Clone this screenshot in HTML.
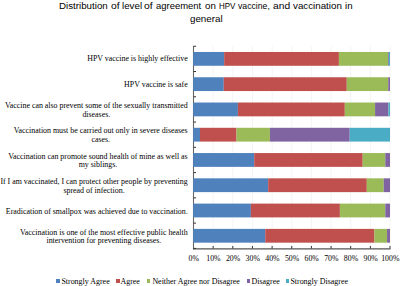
<!DOCTYPE html>
<html><head><meta charset="utf-8">
<style>
html,body{margin:0;padding:0;background:#fff;}
body{width:400px;height:286px;position:relative;overflow:hidden;}
.tw{position:absolute;top:0;transform-origin:0 0;font-family:"Liberation Sans",sans-serif;font-size:9.2px;color:#000;white-space:nowrap;line-height:13px;}
.t{position:absolute;left:0;width:411px;text-align:center;font-family:"Liberation Sans",sans-serif;font-size:9.2px;letter-spacing:0.2px;color:#000;white-space:nowrap;line-height:13px;}
.lab{position:absolute;right:212.3px;text-align:center;font-family:"Liberation Serif",serif;font-size:7.9px;line-height:8.65px;color:#000;white-space:nowrap;}
.xl{position:absolute;width:30px;text-align:center;font-family:"Liberation Serif",serif;font-size:7.82px;line-height:9px;color:#000;white-space:nowrap;top:253.8px;}
.lg{position:absolute;font-family:"Liberation Serif",serif;font-size:7.95px;line-height:9px;color:#000;white-space:nowrap;top:276.5px;}
.sq{position:absolute;width:3.5px;height:3.5px;top:279px;}
svg{position:absolute;left:0;top:0;}
</style></head><body>
<span class="tw" style="left:59.41px;transform:scaleX(1.060)">Distribution</span>
<span class="tw" style="left:111.28px;transform:scaleX(1.125)">of</span>
<span class="tw" style="left:122.34px;transform:scaleX(1.061)">level</span>
<span class="tw" style="left:144.28px;transform:scaleX(1.125)">of</span>
<span class="tw" style="left:155.91px;transform:scaleX(1.028)">agreement</span>
<span class="tw" style="left:204.80px;transform:scaleX(1.059)">on</span>
<span class="tw" style="left:218.55px;transform:scaleX(0.867)">HPV</span>
<span class="tw" style="left:238.18px;transform:scaleX(0.944)">vaccine,</span>
<span class="tw" style="left:272.78px;transform:scaleX(1.120)">and</span>
<span class="tw" style="left:293.47px;transform:scaleX(1.063)">vaccination</span>
<span class="tw" style="left:344.64px;transform:scaleX(1.055)">in</span>
<span class="tw" style="left:189.60px;top:13px;transform:scaleX(1.063)">general</span>
<svg width="400" height="286" viewBox="0 0 400 286">
<line x1="213.15" y1="46.25" x2="213.15" y2="248" stroke="#f4f4f4" stroke-width="1"/>
<line x1="232.80" y1="46.25" x2="232.80" y2="248" stroke="#f4f4f4" stroke-width="1"/>
<line x1="252.45" y1="46.25" x2="252.45" y2="248" stroke="#f4f4f4" stroke-width="1"/>
<line x1="272.10" y1="46.25" x2="272.10" y2="248" stroke="#f4f4f4" stroke-width="1"/>
<line x1="291.75" y1="46.25" x2="291.75" y2="248" stroke="#f4f4f4" stroke-width="1"/>
<line x1="311.40" y1="46.25" x2="311.40" y2="248" stroke="#f4f4f4" stroke-width="1"/>
<line x1="331.05" y1="46.25" x2="331.05" y2="248" stroke="#f4f4f4" stroke-width="1"/>
<line x1="350.70" y1="46.25" x2="350.70" y2="248" stroke="#f4f4f4" stroke-width="1"/>
<line x1="370.35" y1="46.25" x2="370.35" y2="248" stroke="#f4f4f4" stroke-width="1"/>
<line x1="390.00" y1="46.25" x2="390.00" y2="248" stroke="#f4f4f4" stroke-width="1"/>
<line x1="193.5" y1="46" x2="193.5" y2="249.4" stroke="#666" stroke-width="1.1"/>
<line x1="193" y1="248.8" x2="390.5" y2="248.8" stroke="#555" stroke-width="1.2"/>
<line x1="193.5" y1="46.25" x2="196" y2="46.25" stroke="#333" stroke-width="1"/>
<line x1="193.5" y1="71.52" x2="196" y2="71.52" stroke="#333" stroke-width="1"/>
<line x1="193.5" y1="96.79" x2="196" y2="96.79" stroke="#333" stroke-width="1"/>
<line x1="193.5" y1="122.06" x2="196" y2="122.06" stroke="#333" stroke-width="1"/>
<line x1="193.5" y1="147.33" x2="196" y2="147.33" stroke="#333" stroke-width="1"/>
<line x1="193.5" y1="172.60" x2="196" y2="172.60" stroke="#333" stroke-width="1"/>
<line x1="193.5" y1="197.87" x2="196" y2="197.87" stroke="#333" stroke-width="1"/>
<line x1="193.5" y1="223.14" x2="196" y2="223.14" stroke="#333" stroke-width="1"/>
<line x1="193.5" y1="248.41" x2="196" y2="248.41" stroke="#333" stroke-width="1"/>
<line x1="213.15" y1="246" x2="213.15" y2="248.5" stroke="#333" stroke-width="1"/>
<line x1="232.80" y1="246" x2="232.80" y2="248.5" stroke="#333" stroke-width="1"/>
<line x1="252.45" y1="246" x2="252.45" y2="248.5" stroke="#333" stroke-width="1"/>
<line x1="272.10" y1="246" x2="272.10" y2="248.5" stroke="#333" stroke-width="1"/>
<line x1="291.75" y1="246" x2="291.75" y2="248.5" stroke="#333" stroke-width="1"/>
<line x1="311.40" y1="246" x2="311.40" y2="248.5" stroke="#333" stroke-width="1"/>
<line x1="331.05" y1="246" x2="331.05" y2="248.5" stroke="#333" stroke-width="1"/>
<line x1="350.70" y1="246" x2="350.70" y2="248.5" stroke="#333" stroke-width="1"/>
<line x1="370.35" y1="246" x2="370.35" y2="248.5" stroke="#333" stroke-width="1"/>
<line x1="390.00" y1="246" x2="390.00" y2="248.5" stroke="#333" stroke-width="1"/>
<rect x="193.10" y="51.98" width="31.05" height="13.8" fill="#4F81BD"/>
<rect x="224.15" y="51.98" width="114.76" height="13.8" fill="#C0504D"/>
<rect x="338.91" y="51.98" width="49.12" height="13.8" fill="#9BBB59"/>
<rect x="388.03" y="51.98" width="0.79" height="13.8" fill="#8064A2"/>
<rect x="388.82" y="51.98" width="1.18" height="13.8" fill="#4BACC6"/>
<rect x="193.10" y="77.25" width="30.66" height="13.8" fill="#4F81BD"/>
<rect x="223.76" y="77.25" width="123.01" height="13.8" fill="#C0504D"/>
<rect x="346.77" y="77.25" width="41.46" height="13.8" fill="#9BBB59"/>
<rect x="388.23" y="77.25" width="1.77" height="13.8" fill="#8064A2"/>
<rect x="193.10" y="102.52" width="44.81" height="13.8" fill="#4F81BD"/>
<rect x="237.91" y="102.52" width="106.90" height="13.8" fill="#C0504D"/>
<rect x="344.81" y="102.52" width="30.26" height="13.8" fill="#9BBB59"/>
<rect x="375.07" y="102.52" width="13.36" height="13.8" fill="#8064A2"/>
<rect x="388.43" y="102.52" width="1.57" height="13.8" fill="#4BACC6"/>
<rect x="193.10" y="127.79" width="6.88" height="13.8" fill="#4F81BD"/>
<rect x="199.98" y="127.79" width="36.55" height="13.8" fill="#C0504D"/>
<rect x="236.53" y="127.79" width="33.40" height="13.8" fill="#9BBB59"/>
<rect x="269.94" y="127.79" width="79.78" height="13.8" fill="#8064A2"/>
<rect x="349.72" y="127.79" width="40.28" height="13.8" fill="#4BACC6"/>
<rect x="193.10" y="153.06" width="61.12" height="13.8" fill="#4F81BD"/>
<rect x="254.22" y="153.06" width="108.47" height="13.8" fill="#C0504D"/>
<rect x="362.69" y="153.06" width="22.60" height="13.8" fill="#9BBB59"/>
<rect x="385.28" y="153.06" width="4.72" height="13.8" fill="#8064A2"/>
<rect x="193.10" y="178.33" width="75.07" height="13.8" fill="#4F81BD"/>
<rect x="268.17" y="178.33" width="98.64" height="13.8" fill="#C0504D"/>
<rect x="366.81" y="178.33" width="16.90" height="13.8" fill="#9BBB59"/>
<rect x="383.71" y="178.33" width="6.29" height="13.8" fill="#8064A2"/>
<rect x="193.10" y="203.60" width="57.78" height="13.8" fill="#4F81BD"/>
<rect x="250.88" y="203.60" width="89.01" height="13.8" fill="#C0504D"/>
<rect x="339.89" y="203.60" width="45.39" height="13.8" fill="#9BBB59"/>
<rect x="385.28" y="203.60" width="4.72" height="13.8" fill="#8064A2"/>
<rect x="193.10" y="228.88" width="72.12" height="13.8" fill="#4F81BD"/>
<rect x="265.22" y="228.88" width="109.25" height="13.8" fill="#C0504D"/>
<rect x="374.48" y="228.88" width="12.58" height="13.8" fill="#9BBB59"/>
<rect x="387.05" y="228.88" width="2.95" height="13.8" fill="#8064A2"/>
</svg>
<div class="lab" style="top:55.46px">HPV vaccine is highly effective</div>
<div class="lab" style="top:80.83px">HPV vaccine is safe</div>
<div class="lab" style="top:101.88px">Vaccine can also prevent some of the sexually transmitted<br>diseases.</div>
<div class="lab" style="top:127.24px">Vaccination must be carried out only in severe diseases<br>cases.</div>
<div class="lab" style="top:152.62px">Vaccination can promote sound health of mine as well as<br>my siblings.</div>
<div class="lab" style="top:177.98px">If I am vaccinated, I can protect other people by preventing<br>spread of infection.</div>
<div class="lab" style="top:207.68px">Eradication of smallpox was achieved due to vaccination.</div>
<div class="lab" style="top:228.72px">Vaccination is one of the most effective public health<br>intervention for preventing diseases.</div>
<div class="xl" style="left:178.80px">0%</div>
<div class="xl" style="left:198.45px">10%</div>
<div class="xl" style="left:218.10px">20%</div>
<div class="xl" style="left:237.75px">30%</div>
<div class="xl" style="left:257.40px">40%</div>
<div class="xl" style="left:277.05px">50%</div>
<div class="xl" style="left:296.70px">60%</div>
<div class="xl" style="left:316.35px">70%</div>
<div class="xl" style="left:336.00px">80%</div>
<div class="xl" style="left:355.65px">90%</div>
<div class="xl" style="left:375.30px">100%</div>
<div class="sq" style="left:56px;background:#4F81BD"></div>
<div class="lg" style="left:61.4px">Strongly Agree</div>
<div class="sq" style="left:116px;background:#C0504D"></div>
<div class="lg" style="left:120.5px">Agree</div>
<div class="sq" style="left:146.8px;background:#9BBB59"></div>
<div class="lg" style="left:152.4px">Neither Agree nor Disagree</div>
<div class="sq" style="left:246.6px;background:#8064A2"></div>
<div class="lg" style="left:251.5px">Disagree</div>
<div class="sq" style="left:285.5px;background:#4BACC6"></div>
<div class="lg" style="left:290.4px">Strongly Disagree</div>
</body></html>
